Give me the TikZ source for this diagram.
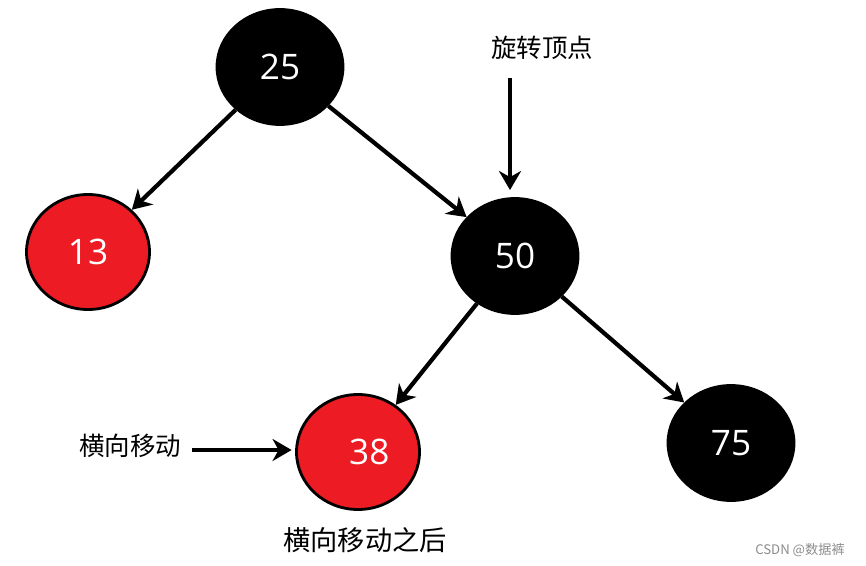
\documentclass[tikz,border=0pt]{standalone}
\usepackage{fontspec}
\setmainfont{Noto Sans CJK SC}
\newfontfamily\digitfont{Open Sans}
\usepackage{tikz}
\usetikzlibrary{arrows.meta,positioning,shapes.geometric}

\begin{document}
\begin{tikzpicture}[
    treenode/.style={ellipse, draw=black, line width=1.6pt, inner sep=0pt, text=white, font=\digitfont\fontsize{20}{22}\selectfont},
    blacknode/.style={treenode, fill=black, minimum width=2.52cm, minimum height=2.3cm},
    rednode/.style={treenode, fill=treered, minimum width=2.46cm, minimum height=2.3cm},
    arrow/.style={-{Stealth[length=3.8mm, width=4.4mm, inset=1.2mm]}, line width=2.4pt},
    note/.style={font=\fontsize{14.5}{16}\selectfont, inner sep=0pt}
]
\definecolor{treered}{HTML}{ED1C24}
\useasboundingbox (0,0) rectangle (17.32,-11.32);

% tree nodes
\node[blacknode] (n25) at (5.6,-1.34) {25};
\node[rednode]   (n13) at (1.76,-5.04) {13};
\node[blacknode] (n50) at (10.3,-5.12) {50};
\node[rednode]   (n38) at (7.16,-9.04) {\hspace{0.45cm}38};
\node[blacknode] (n75) at (14.62,-8.86) {75};

% labels
\node[note] (rot) at (10.84,-0.96) {旋转顶点};
\node[note] (move) at (2.6,-8.92) {横向移动};
\node[note, font=\fontsize{15.5}{17}\selectfont] (after) at (7.3,-10.8) {横向移动之后};
\node[font=\fontsize{7.5}{9}\selectfont, text=black!45, inner sep=0pt] (mark) at (16.0,-11.0) {CSDN @数据裤};

\coordinate (rotstart) at (10.2,-1.56);
\coordinate (movestart) at (3.84,-9.0);

% edges
\draw[arrow] (n25) -- (n13);
\draw[arrow] (n25) -- (n50);
\draw[arrow] (n50) -- (n38);
\draw[arrow] (n50) -- (n75);
\draw[arrow, shorten >=4pt] (rotstart) -- (rotstart |- n50.north);
\draw[arrow, shorten >=2pt] (movestart) -- (movestart -| n38.west);
\end{tikzpicture}
\end{document}
